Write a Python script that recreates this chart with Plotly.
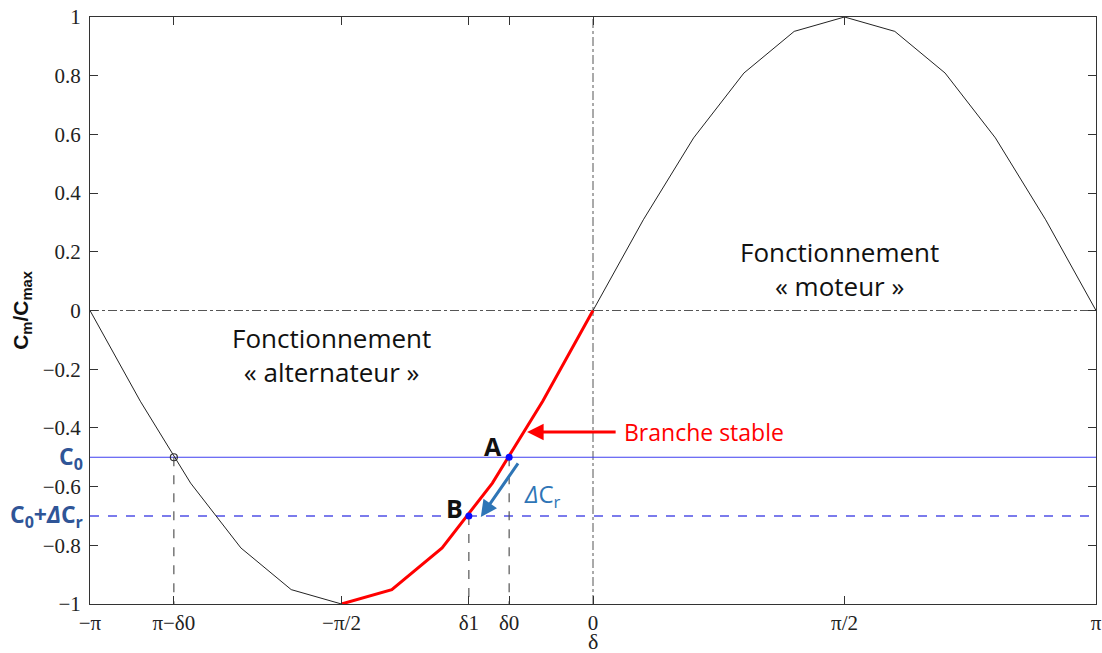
import plotly.graph_objects as go

# angle values expressed in multiples of pi
x_pi = [-1.0, -0.9, -0.8, -0.7, -0.6, -0.5, -0.4, -0.3, -0.2, -0.1, 0.0,
        0.1, 0.2, 0.3, 0.4, 0.5, 0.6, 0.7, 0.8, 0.9, 1.0]
cm_ratio = [0.0, -0.309, -0.588, -0.809, -0.951, -1.0, -0.951, -0.809, -0.588, -0.309, 0.0,
            0.309, 0.588, 0.809, 0.951, 1.0, 0.951, 0.809, 0.588, 0.309, 0.0]
branch_x = [-0.5, -0.4, -0.3, -0.2, -0.1, 0.0]
branch_y = [-1.0, -0.951, -0.809, -0.588, -0.309, 0.0]

C0 = -0.5
C1 = -0.7
delta0 = -0.1667
delta1 = -0.2468
delta_alt = -0.8333

x_tick_vals = [-1.0, delta_alt, -0.5, delta1, delta0, 0.0, 0.5, 1.0]
x_tick_text = ["−π", "π−δ0", "−π/2", "δ1", "δ0", "0", "π/2", "π"]
y_tick_vals = [-1.0, -0.8, -0.6, -0.4, -0.2, 0.0, 0.2, 0.4, 0.6, 0.8, 1.0]
y_tick_text = ["−1", "−0.8", "−0.6", "−0.4", "−0.2", "0", "0.2", "0.4", "0.6", "0.8", "1"]

AX = "#333333"
SANS = "Open Sans"
SERIF = "Liberation Serif"

fig = go.Figure()

# reference dash-dot axes
fig.add_trace(go.Scatter(x=[-1, 1], y=[0, 0], mode="lines",
                         line=dict(color="#555555", width=1, dash="dashdot")))
fig.add_trace(go.Scatter(x=[0, 0], y=[-1, 1], mode="lines",
                         line=dict(color="#555555", width=1, dash="dashdot")))

# horizontal torque levels
fig.add_trace(go.Scatter(x=[-1, 1], y=[C0, C0], mode="lines",
                         line=dict(color="#3f3ff0", width=1.2)))
fig.add_trace(go.Scatter(x=[-1, 1], y=[C1, C1], mode="lines",
                         line=dict(color="#7b7bec", width=2, dash="dash")))

# vertical dashed projection lines
fig.add_trace(go.Scatter(x=[delta_alt, delta_alt], y=[C0, -1], mode="lines",
                         line=dict(color="#555555", width=1.2, dash="dash")))
fig.add_trace(go.Scatter(x=[delta0, delta0], y=[C0, -1], mode="lines",
                         line=dict(color="#555555", width=1.2, dash="dash")))
fig.add_trace(go.Scatter(x=[delta1, delta1], y=[C1, -1], mode="lines",
                         line=dict(color="#555555", width=1.2, dash="dash")))

# torque curve
fig.add_trace(go.Scatter(x=x_pi, y=cm_ratio, mode="lines",
                         line=dict(color="#222222", width=1)))
# stable branch
fig.add_trace(go.Scatter(x=branch_x, y=branch_y, mode="lines",
                         line=dict(color="#ff0000", width=3)))

# points
fig.add_trace(go.Scatter(x=[delta_alt], y=[C0], mode="markers",
                         marker=dict(size=7, color="rgba(0,0,0,0)",
                                     line=dict(color="#333333", width=1.2))))
fig.add_trace(go.Scatter(x=[delta0, delta1], y=[C0, C1], mode="markers",
                         marker=dict(size=7, color="#0a0aff")))

annotations = [
    dict(x=0.49, y=0.141, xref="x", yref="y", text="Fonctionnement<br>« moteur »",
         showarrow=False, font=dict(family=SANS, size=26, color="#111111"),
         xanchor="center", yanchor="middle"),
    dict(x=-0.52, y=-0.152, xref="x", yref="y", text="Fonctionnement<br>« alternateur »",
         showarrow=False, font=dict(family=SANS, size=26, color="#111111"),
         xanchor="center", yanchor="middle"),
    dict(x=-0.131, y=-0.414, ax=0.048, ay=-0.414, xref="x", yref="y",
         axref="x", ayref="y", text="", showarrow=True, arrowhead=2,
         arrowsize=1.1, arrowwidth=3, arrowcolor="#ff0000"),
    dict(x=0.058, y=-0.414, xref="x", yref="y", text="Branche stable",
         showarrow=False, xanchor="left", yanchor="middle",
         font=dict(family=SANS, size=23, color="#ff0000")),
    dict(x=-0.223, y=-0.7036, ax=-0.147, ay=-0.516, xref="x", yref="y",
         axref="x", ayref="y", text="", showarrow=True, arrowhead=2,
         arrowsize=1.1, arrowwidth=3, arrowcolor="#2e75b6"),
    dict(x=-0.0995, y=-0.628, xref="x", yref="y", text="<i>Δ</i>C<sub>r</sub>",
         showarrow=False, font=dict(family=SANS, size=24, color="#2e75b6")),
    dict(x=-0.199, y=-0.462, xref="x", yref="y", text="<b>A</b>",
         showarrow=False, font=dict(family=SANS, size=25, color="#111111")),
    dict(x=-0.275, y=-0.672, xref="x", yref="y", text="<b>B</b>",
         showarrow=False, font=dict(family=SANS, size=25, color="#111111")),
    dict(x=-1.0, y=C0, xref="x", yref="y", xshift=-5, text="<b>C<sub>0</sub></b>",
         showarrow=False, xanchor="right", yanchor="middle",
         font=dict(family=SANS, size=23, color="#2f5597")),
    dict(x=-1.0, y=C1, xref="x", yref="y", xshift=-5, text="<b>C<sub>0</sub>+<i>Δ</i>C<sub>r</sub></b>",
         showarrow=False, xanchor="right", yanchor="middle",
         font=dict(family=SANS, size=23, color="#2f5597")),
    # x-axis title (placed just under the tick labels, as in the reference)
    dict(x=0.0, y=0, xref="x", yref="paper", yshift=-37, text="δ",
         showarrow=False, xanchor="center", yanchor="middle",
         font=dict(family=SERIF, size=22, color="#222222")),
]

fig.update_layout(
    width=1102, height=653,
    margin=dict(l=90, r=6, t=17, b=49),
    plot_bgcolor="white", paper_bgcolor="white",
    showlegend=False,
    annotations=annotations,
    xaxis=dict(range=[-1, 1], tickmode="array", tickvals=x_tick_vals, ticktext=x_tick_text,
               showgrid=False, zeroline=False, showline=True, mirror="ticks", automargin=False,
               linecolor=AX, linewidth=1, ticks="inside", ticklen=8, tickcolor=AX, tickwidth=1.2,
               tickfont=dict(family=SERIF, size=21, color="#222222")),
    yaxis=dict(range=[-1, 1], tickmode="array", tickvals=y_tick_vals, ticktext=y_tick_text,
               showgrid=False, zeroline=False, showline=True, mirror="ticks", automargin=False,
               linecolor=AX, linewidth=1, ticks="inside", ticklen=8, tickcolor=AX, tickwidth=1.2,
               ticklabelstandoff=4,
               tickfont=dict(family=SERIF, size=21, color="#222222"),
               title=dict(text="<b>C<sub>m</sub>/C<sub>max</sub></b>",
                          font=dict(family="Liberation Sans", size=21, color="#111111"), standoff=8)),
)

fig.write_html("out.html", config={"displayModeBar": False})

# remove the default page margin so the figure fills the window exactly
with open("out.html", "r", encoding="utf-8") as f:
    html = f.read()
html = html.replace("<head>", "<head><style>html,body{margin:0;padding:0;overflow:hidden;}</style>", 1)
with open("out.html", "w", encoding="utf-8") as f:
    f.write(html)
